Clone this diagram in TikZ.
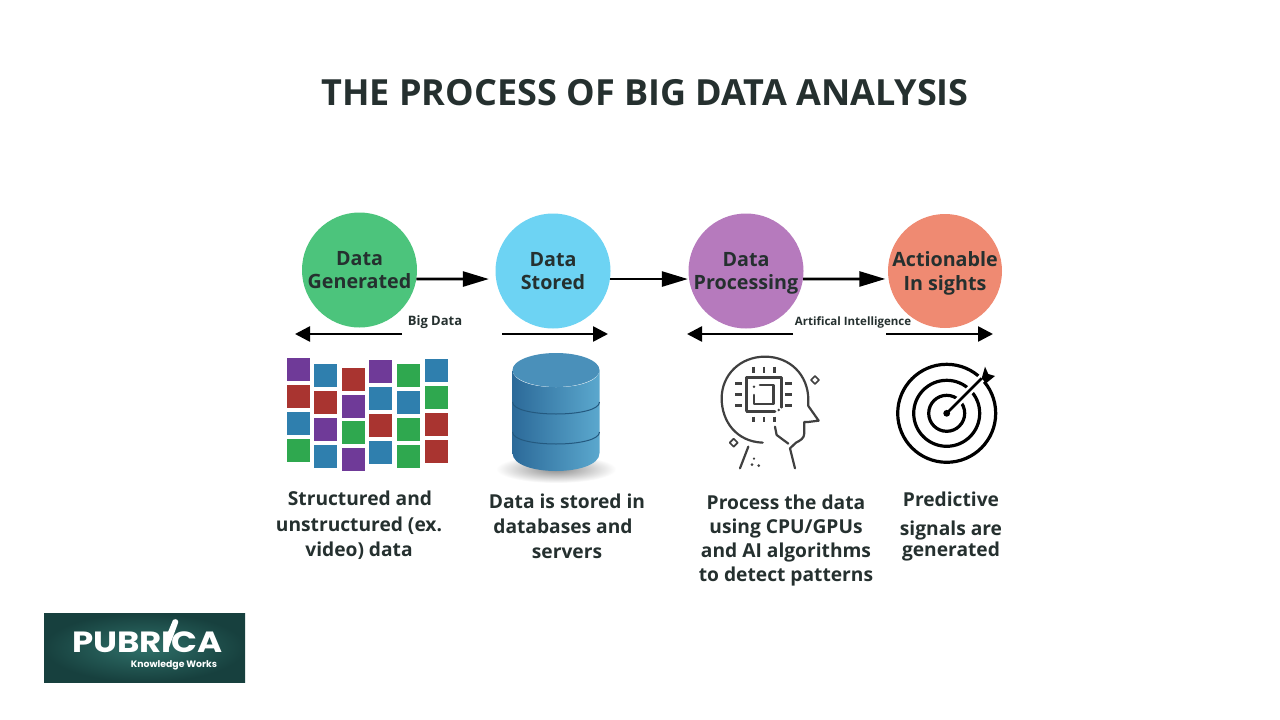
\documentclass[tikz,border=0pt]{standalone}
\usepackage{fontspec}
\usepackage{graphicx}
\setmainfont{Open Sans}
\newfontfamily\logofont{Poppins}
\usetikzlibrary{arrows.meta,calc}
\definecolor{ink}{HTML}{25302F}
\definecolor{cgreen}{HTML}{4CC47C}
\definecolor{cblue}{HTML}{6DD3F3}
\definecolor{cpurple}{HTML}{B67ABD}
\definecolor{csalmon}{HTML}{EF8A72}
\definecolor{sqp}{HTML}{6F3A98}
\definecolor{sqb}{HTML}{2F7FAE}
\definecolor{sqr}{HTML}{A93430}
\definecolor{sqg}{HTML}{2FA84F}
\definecolor{dbdark}{HTML}{2C6A99}
\definecolor{dblight}{HTML}{5BA8CE}
\definecolor{dbtop}{HTML}{4A90BA}
\definecolor{dbline}{HTML}{24597F}
\definecolor{logodark}{HTML}{17403E}
\definecolor{logolight}{HTML}{2F7069}
\tikzset{
  stage/.style={circle,minimum size=#1,inner sep=0pt,align=center,text=ink,text depth=0pt,font=\bfseries\fontsize{19.7}{23.5}\selectfont},
  flow/.style={-{Triangle[length=15pt,width=15pt]},line width=2.6pt,black},
  bigflow/.style={-{Triangle[length=26pt,width=15pt]},line width=2.6pt,black},
  caption/.style={text=ink,inner sep=0pt,text height=14pt,text depth=4pt,yshift=-2pt,font=\bfseries\fontsize{19.2}{22}\selectfont},
  tag/.style={text=ink,inner sep=0pt,font=\bfseries\fontsize{#1}{13}\selectfont},
  sq/.style={minimum size=23pt,inner sep=0pt,fill=#1},
  icon/.style={line width=2.2pt,draw=black!75,line cap=round,line join=round},
  pin/.style={line width=2.4pt,draw=black!75},
  ring/.style={line width=3.2pt,draw=black},
  dbband/.style={line width=1pt,draw=dbline}
}
\newcommand{\sqsq}[4]{\node[sq=#1] (s#2) at (#3,#4) {};}
\begin{document}
\begin{tikzpicture}[x=1pt,y=-1pt]
\useasboundingbox (0,0) rectangle (1280,720);
\fill[white] (0,0) rectangle (1280,720);

\node[text=ink,inner sep=0pt,font=\bfseries\fontsize{36}{38}\selectfont] (title) at (645,93) {THE PROCESS OF BIG DATA ANALYSIS};

% circles
\node[stage=115pt,fill=cgreen] (gen) at (359.5,270) {Data\\Generated};
\node[stage=115pt,fill=cblue] (stored) at (553,271) {Data\\Stored};
\node[stage=115pt,fill=cpurple] (proc) at (746,271) {Data\\Processing};
\node[stage=114pt,fill=csalmon] (act) at (945,271) {Actionable\\In sights};

\draw[bigflow,shorten >=7pt] (gen.-9) -- (stored.188);
\draw[bigflow,shorten >=1pt] (stored.-8) -- (proc.188);
\draw[bigflow,shorten >=3pt] (proc.-8) -- (act.188);

% lower arrows
\coordinate (a1) at (402,334); \coordinate (a2) at (295,334);
\coordinate (a3) at (502,334); \coordinate (a4) at (608,334);
\coordinate (a5) at (793,334); \coordinate (a6) at (687,334);
\coordinate (a7) at (886,334); \coordinate (a8) at (993,334);
\draw[flow] (a1) -- (a2);
\draw[flow] (a3) -- (a4);
\draw[flow] (a5) -- (a6);
\draw[flow] (a7) -- (a8);
\node[tag=13] (bigdata) at (435,322) {Big Data};
\node[tag=11.5] (ai) at (853,322) {Artifical Intelligence};

% coloured squares
\sqsq{sqp}{a1}{298}{369}\sqsq{sqr}{b1}{298}{396}\sqsq{sqb}{c1}{298}{423}\sqsq{sqg}{d1}{298}{450}
\sqsq{sqb}{a2}{325.5}{375}\sqsq{sqr}{b2}{325.5}{402}\sqsq{sqp}{c2}{325.5}{429}\sqsq{sqb}{d2}{325.5}{456}
\sqsq{sqr}{a3}{353.5}{379}\sqsq{sqp}{b3}{353.5}{406}\sqsq{sqg}{c3}{353.5}{432}\sqsq{sqp}{d3}{353.5}{459}
\sqsq{sqp}{a4}{380.5}{371}\sqsq{sqb}{b4}{380.5}{398}\sqsq{sqr}{c4}{380.5}{425}\sqsq{sqb}{d4}{380.5}{452}
\sqsq{sqg}{a5}{408.5}{375}\sqsq{sqb}{b5}{408.5}{402}\sqsq{sqg}{c5}{408.5}{429}\sqsq{sqg}{d5}{408.5}{456}
\sqsq{sqb}{a6}{436}{370}\sqsq{sqg}{b6}{436}{397}\sqsq{sqr}{c6}{436}{424}\sqsq{sqr}{d6}{436}{451}

% database cylinder
\shade[inner color=black!45,outer color=white] (556,469) ellipse [x radius=60pt,y radius=14pt];
\shade[left color=dbdark,right color=dblight]
  (512.5,370) -- (512.5,453) .. controls (512.5,477) and (599.5,477) .. (599.5,453) -- (599.5,370)
  .. controls (599.5,393) and (512.5,393) .. (512.5,370) -- cycle;
\fill[dbtop] (556,370) ellipse [x radius=43.5pt,y radius=17pt];
\draw[dbband] (512.5,402) .. controls (512.5,418) and (599.5,418) .. (599.5,402);
\draw[dbband] (512.5,432) .. controls (512.5,448) and (599.5,448) .. (599.5,432);

% head icon (coordinates of a 3x view)
\begin{scope}[shift={(680,300)},x=0.3333pt,y=-0.3333pt]
  \draw[icon] (248,428) .. controls (170,425) and (125,365) .. (125,295)
     .. controls (125,225) and (180,170) .. (255,170)
     .. controls (330,170) and (385,225) .. (385,300)
     -- (385,318) -- (416,362) -- (384,366) -- (373,366) -- (373,400)
     .. controls (373,415) and (360,422) .. (348,428) -- (330,445) -- (345,505);
  \draw[icon] (285,380) -- (290,405) -- (325,431);
  \draw[icon] (205,440) -- (180,505);
  \draw[icon,line width=2.6pt] (200,332) -- (200,232) -- (305,232) -- (305,322);
  \draw[icon,line width=2.6pt] (200,335) -- (285,335);
  \draw[icon,line width=2.6pt] (222,285) -- (222,312) -- (280,312) -- (280,255) -- (240,255);
  \foreach \x in {220,252,284} {
    \draw[pin] (\x,200) -- (\x,218);
    \draw[pin] (\x,350) -- (\x,366);
  }
  \foreach \y in {250,284,316} {
    \draw[pin] (166,\y) -- (186,\y);
    \draw[pin] (316,\y) -- (336,\y);
  }
  \fill[black!75] (222,260) circle (1.4pt);
  \fill[black!75] (296,330) circle (1.4pt);
  \fill[black!75] (216,494) circle (1.5pt);
  \fill[black!75] (236,497) circle (1.5pt);
  \fill[black!75] (222,476) circle (1.2pt);
  \draw[icon,line width=1.7pt] (405,228) -- (417,240) -- (405,252) -- (393,240) -- cycle;
  \draw[icon,line width=1.7pt] (161,416) -- (173,428) -- (161,440) -- (149,428) -- cycle;
\end{scope}

% target icon
\coordinate (tc) at (946.7,413.3);
\coordinate (tb) at (981.7,378.3);
\draw[ring] (tc) circle [radius=49pt];
\draw[ring] (tc) circle [radius=33pt];
\draw[ring] (tc) circle [radius=18pt];
\draw[white,line width=8pt] ($(tc)!0.22!(tb)$) -- ($(tc)!1.12!(tb)$);
\draw[line width=2.8pt,black] (tc) -- (tb);
\fill[black] (tc) circle (3.4pt);
\fill[black] (tb) -- (985,366.7) -- (988.3,374) -- (995,376) -- (986,383.3) -- cycle;

% captions
\node[caption] (c1a) at (360,498) {Structured and};
\node[caption] (c1b) at (359,524) {unstructured (ex.};
\node[caption] (c1c) at (359,549) {video) data};
\node[caption] (c2a) at (567,501) {Data is stored in};
\node[caption] (c2b) at (563,526) {databases and};
\node[caption] (c2c) at (567,551) {servers};
\node[caption] (c3a) at (786,502) {Process the data};
\node[caption] (c3b) at (786,526) {using CPU/GPUs};
\node[caption] (c3c) at (786,550) {and AI algorithms};
\node[caption] (c3d) at (786,574) {to detect patterns};
\node[caption] (c4a) at (951,499) {Predictive};
\node[caption] (c4b) at (951,528) {signals are};
\node[caption] (c4c) at (951,549) {generated};

% logo
\shade[inner color=logolight,outer color=logodark] (44,613) rectangle (245,682);
\node[text=white,inner sep=0pt,font=\logofont\bfseries\fontsize{34}{36}\selectfont] (pub) at (147.5,642.5) {\scalebox{1}[0.86]{PUBRICA}};
\node[text=white,inner sep=0pt,font=\logofont\bfseries\fontsize{9.3}{11}\selectfont] (kw) at (174,665) {Knowledge Works};
\fill[white] (167.3,652) -- (168,632) -- (173,620) .. controls (176,618) and (179,620) .. (178,623) -- (174,634) -- cycle;
\end{tikzpicture}
\end{document}
